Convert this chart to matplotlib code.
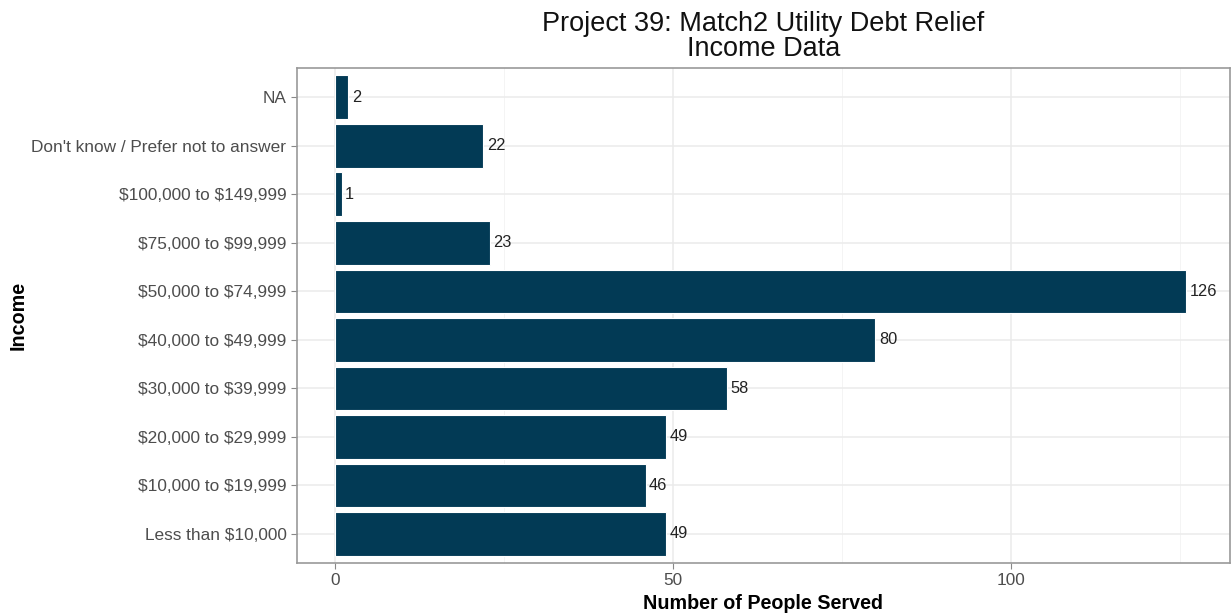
import matplotlib.pyplot as plt

categories = ["Less than $10,000", "$10,000 to $19,999", "$20,000 to $29,999",
              "$30,000 to $39,999", "$40,000 to $49,999", "$50,000 to $74,999",
              "$75,000 to $99,999", "$100,000 to $149,999",
              "Don't know / Prefer not to answer", "NA"]
counts = [49, 46, 49, 58, 80, 126, 23, 1, 22, 2]
xticks = [0, 50, 100]
minor_xticks = [25, 75, 125]

plt.rcParams['font.family'] = ['Liberation Sans', 'DejaVu Sans']
plt.rcParams['text.parse_math'] = False

fig = plt.figure(figsize=(12.32, 6.14), dpi=100)
ax = fig.add_axes([0.241, 0.083, 0.757, 0.806])

ypos = range(len(categories))
ax.barh(ypos, counts, height=0.9, color="#023A55", edgecolor="white", linewidth=0.8, zorder=3)
for y, v in zip(ypos, counts):
    ax.text(v + 0.5, y, str(v), va="center", ha="left", fontsize=11.8, color="#222222", zorder=4)

ax.set_xlim(-5.6, 132.4)
ax.set_ylim(-0.6, len(categories) - 0.4)
ax.set_yticks(list(ypos))
ax.set_yticklabels(categories, fontsize=12.2)
ax.set_xticks(xticks)
ax.set_xticks(minor_xticks, minor=True)

ax.grid(True, which="major", color="#EBEBEB", linewidth=1.1, zorder=0)
ax.grid(True, which="minor", axis="x", color="#F3F3F3", linewidth=0.6, zorder=0)
ax.set_axisbelow(True)

for s in ax.spines.values():
    s.set_color("#999999")
    s.set_linewidth(1.2)

ax.tick_params(axis="both", which="major", colors="#888888", labelcolor="#4D4D4D",
               labelsize=12.4, length=4)
ax.tick_params(axis="x", which="minor", length=0)

ax.set_xlabel("Number of People Served", fontsize=14.2, fontweight="bold", labelpad=4)
ax.set_ylabel("Income", fontsize=14.2, fontweight="bold", labelpad=3)
ax.set_title("Project 39: Match2 Utility Debt Relief\nIncome Data", fontsize=19.5,
             linespacing=0.95, pad=9, color="#111111")

fig.savefig("out.png", dpi=100)
